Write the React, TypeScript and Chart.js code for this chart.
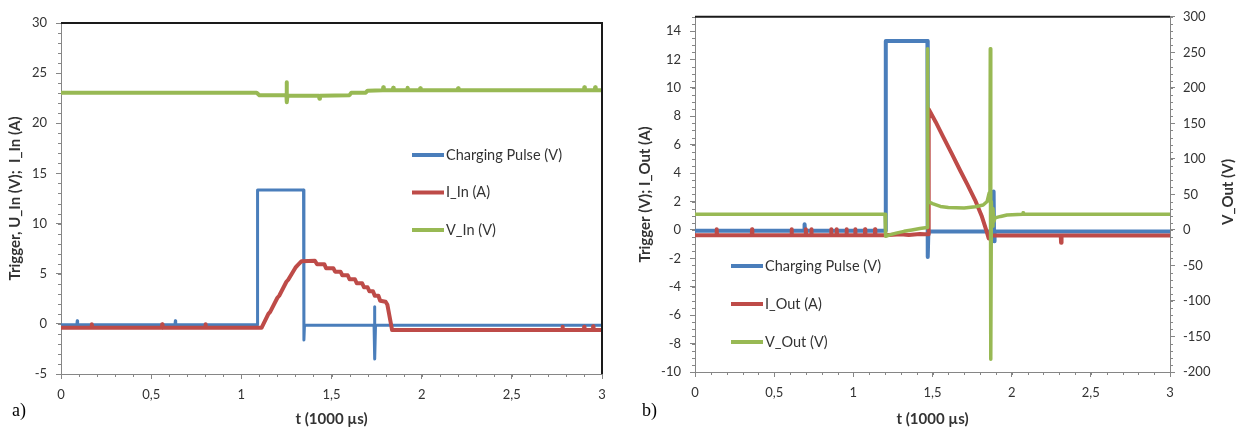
import React, { useEffect, useRef } from 'react';
import { Chart, registerables } from 'chart.js';

Chart.register(...registerables);

// ---------------- data ----------------
const xTickValues = [0, 0.5, 1, 1.5, 2, 2.5, 3];
const aYTickValues = [-5, 0, 5, 10, 15, 20, 25, 30];
const bYTickValues = [-10, -8, -6, -4, -2, 0, 2, 4, 6, 8, 10, 12, 14];
const bY2TickValues = [-200, -150, -100, -50, 0, 50, 100, 150, 200, 250, 300];

const aLabels = ['Charging Pulse (V)', 'I_In (A)', 'V_In (V)'];
const bLabels = ['Charging Pulse (V)', 'I_Out (A)', 'V_Out (V)'];

const aYTitle = 'Trigger, U_In (V);  I_In (A)';
const bYTitle = 'Trigger (V); I_Out (A)';
const bY2Title = 'V_Out (V)';
const xTitle = 't (1000 µs)';

// panel a) : [t (1000 µs), value]
const aPulse: [number, number][] = [
  [0, -0.1], [0.088, -0.1], [0.09, 0.3], [0.092, -0.1],
  [0.632, -0.1], [0.634, 0.3], [0.636, -0.1],
  [1.088, -0.1], [1.09, 13.35], [1.345, 13.35], [1.347, -1.6], [1.35, -0.15],
  [1.736, -0.15], [1.738, 1.7], [1.741, -3.5], [1.744, -0.15],
  [2.5, -0.15], [3, -0.15],
];

const aIIn: [number, number][] = [
  [0, -0.4], [0.17, -0.4], [0.171, -0.05], [0.173, -0.4],
  [0.56, -0.4], [0.561, -0.05], [0.563, -0.4],
  [0.8, -0.4], [0.801, -0.05], [0.803, -0.4],
  [1.112, -0.4], [1.15, 1.0], [1.16, 1.2], [1.2, 2.6], [1.21, 2.8], [1.25, 4.2], [1.26, 4.4],
  [1.3, 5.6], [1.31, 5.8], [1.334, 6.25], [1.408, 6.3],
  [1.42, 5.95], [1.46, 5.95], [1.47, 5.55], [1.51, 5.55], [1.52, 5.2], [1.55, 5.2],
  [1.56, 4.85], [1.59, 4.85], [1.6, 4.45], [1.63, 4.45], [1.64, 4.05], [1.67, 4.05],
  [1.68, 3.65], [1.7, 3.65], [1.71, 3.25], [1.73, 3.25], [1.74, 2.8], [1.76, 2.8],
  [1.77, 2.3], [1.8, 2.2], [1.81, 1.9], [1.836, -0.62],
  [2.2, -0.62], [2.6, -0.62], [2.78, -0.62], [2.781, -0.3], [2.783, -0.62],
  [2.9, -0.62], [2.901, -0.3], [2.903, -0.62], [2.95, -0.62], [2.951, -0.25], [2.953, -0.62], [3, -0.62],
];

const aVIn: [number, number][] = [
  [0, 23.05], [1.085, 23.05], [1.1, 22.8], [1.25, 22.8], [1.251, 24.1], [1.253, 22.1], [1.256, 22.75],
  [1.43, 22.75], [1.433, 22.45], [1.436, 22.75], [1.6, 22.8], [1.61, 23.05], [1.69, 23.05], [1.7, 23.25],
  [1.785, 23.3], [1.787, 23.6], [1.79, 23.3], [1.84, 23.3], [1.842, 23.55], [1.845, 23.3],
  [1.92, 23.3], [1.922, 23.55], [1.925, 23.3], [1.99, 23.3], [1.992, 23.5], [1.995, 23.3],
  [2.2, 23.3], [2.202, 23.5], [2.205, 23.3], [2.9, 23.3], [2.902, 23.6], [2.905, 23.3],
  [2.96, 23.3], [2.962, 23.6], [2.965, 23.3], [3, 23.3],
];

// panel b)
const bPulse: [number, number][] = [
  [0, -0.05], [0.69, -0.05], [0.692, 0.4], [0.695, -0.05],
  [1.203, -0.05], [1.205, 13.3], [1.468, 13.3], [1.47, -1.9], [1.474, -0.12],
  [1.884, -0.12], [1.886, 2.7], [1.889, -0.8], [1.892, -0.12], [3, -0.12],
];

const bIOut: [number, number][] = [
  [0, -0.38], [0.136, -0.38], [0.137, 0.05], [0.139, -0.38],
  [0.359, -0.38], [0.36, 0.05], [0.362, -0.38],
  [0.609, -0.38], [0.61, 0.05], [0.612, -0.38],
  [0.699, -0.38], [0.7, 0.05], [0.702, -0.38],
  [0.734, -0.38], [0.735, 0.05], [0.737, -0.38],
  [0.859, -0.38], [0.86, 0.05], [0.862, -0.38],
  [0.894, -0.38], [0.895, 0.05], [0.897, -0.38],
  [0.956, -0.38], [0.957, 0.05], [0.959, -0.38],
  [1.011, -0.38], [1.012, 0.05], [1.014, -0.38],
  [1.073, -0.38], [1.074, 0.05], [1.076, -0.38],
  [1.136, -0.38], [1.137, 0.05], [1.139, -0.38],
  [1.2, -0.38], [1.3, -0.3], [1.35, -0.35], [1.42, -0.28], [1.45, -0.3], [1.472, -0.3],
  [1.476, 8.5], [1.52, 7.6], [1.57, 6.5], [1.62, 5.4], [1.674, 4.2], [1.72, 3.2], [1.769, 2.1],
  [1.81, 1.0], [1.842, -0.1], [1.855, -0.6], [1.868, -0.4],
  [2.31, -0.4], [2.312, -0.9], [2.315, -0.4], [3, -0.4],
];

const bVOut: [number, number][] = [
  [0, 22], [1.2, 22], [1.204, -9], [1.23, -7], [1.27, -4.5], [1.32, -2], [1.37, 0], [1.42, 2],
  [1.467, 3.5], [1.469, 255], [1.472, 40], [1.5, 37], [1.55, 33], [1.6, 31.5], [1.7, 31],
  [1.77, 32.5], [1.82, 35], [1.845, 40], [1.858, 52], [1.863, 60], [1.865, 255], [1.868, -182],
  [1.872, 40], [1.876, 5], [1.882, 30], [1.888, 12], [1.895, 17], [1.93, 19], [1.97, 21],
  [2.07, 22], [2.072, 24], [2.075, 22], [3, 22],
];

// ---------------- styles ----------------
const FONT = 'Lato, "Liberation Sans", Arial, sans-serif';
const TEXT = '#333333';
const AXIS = '#868686';
const BLUE = '#4A7EBB';
const RED = '#BE4B48';
const GREEN = '#98B954';

const fmt = (v: number | string) => String(v).replace('.', ',');

function series(label: string, data: [number, number][], color: string, width: number, yAxisID = 'y') {
  return {
    label,
    data: data.map(([x, y]) => ({ x, y })),
    borderColor: color,
    backgroundColor: color,
    borderWidth: width,
    borderJoinStyle: 'round' as const,
    borderCapStyle: 'butt' as const,
    pointRadius: 0,
    pointHoverRadius: 0,
    tension: 0,
    fill: false,
    yAxisID,
  };
}

type DecorCfg = {
  minor: Record<string, number>;
  frameRight: boolean;
  legend: { x: number; y: number; dy: number; len: number; items: { text: string; color: string }[] };
  rightTitle?: { text: string; x: number; y: number };
};

function makeDecor(cfg: DecorCfg) {
  return {
    id: 'decor',
    afterDraw(chart: any) {
      const ctx: CanvasRenderingContext2D = chart.ctx;
      const area = chart.chartArea;
      ctx.save();
      // minor ticks
      ctx.strokeStyle = AXIS;
      ctx.lineWidth = 1;
      for (const id of Object.keys(cfg.minor)) {
        const s = chart.scales[id];
        const step = cfg.minor[id];
        const n = Math.round((s.max - s.min) / step);
        for (let i = 0; i <= n; i++) {
          const p = Math.round(s.getPixelForValue(s.min + i * step)) + 0.5;
          ctx.beginPath();
          if (s.isHorizontal()) {
            ctx.moveTo(p, s.top);
            ctx.lineTo(p, s.top + 3);
          } else if (s.position === 'left') {
            ctx.moveTo(s.right, p);
            ctx.lineTo(s.right - 3, p);
          } else {
            ctx.moveTo(s.left, p);
            ctx.lineTo(s.left + 3, p);
          }
          ctx.stroke();
        }
      }
      // frame
      ctx.strokeStyle = '#1a1a1a';
      ctx.lineWidth = 2;
      ctx.beginPath();
      ctx.moveTo(area.left, area.top);
      ctx.lineTo(area.right, area.top);
      if (cfg.frameRight) ctx.lineTo(area.right, area.bottom);
      ctx.stroke();
      // legend
      const lg = cfg.legend;
      ctx.font = `14.5px ${FONT}`;
      ctx.textBaseline = 'middle';
      ctx.textAlign = 'left';
      lg.items.forEach((it, i) => {
        const y = lg.y + i * lg.dy;
        ctx.strokeStyle = it.color;
        ctx.lineWidth = 4;
        ctx.beginPath();
        ctx.moveTo(lg.x, y);
        ctx.lineTo(lg.x + lg.len, y);
        ctx.stroke();
        ctx.fillStyle = TEXT;
        ctx.fillText(it.text, lg.x + lg.len + 2, y);
      });
      // rotated right title (reads bottom to top)
      if (cfg.rightTitle) {
        const rt = cfg.rightTitle;
        ctx.translate(rt.x, rt.y);
        ctx.rotate(-Math.PI / 2);
        ctx.font = `bold 15px ${FONT}`;
        ctx.textAlign = 'center';
        ctx.textBaseline = 'middle';
        ctx.fillStyle = TEXT;
        ctx.fillText(rt.text, 0, 0);
      }
      ctx.restore();
    },
  };
}

const tickFont = { family: FONT, size: 13 };
const titleFont = { family: FONT, size: 15, weight: 'bold' as const };

function xScale(height: number) {
  return {
    type: 'linear' as const,
    min: 0,
    max: 3,
    afterBuildTicks: (s: any) => { s.ticks = xTickValues.map((value) => ({ value })); },
    afterFit: (s: any) => { s.height = height; },
    ticks: { callback: (v: any) => fmt(v), font: tickFont, color: TEXT, padding: 8, autoSkip: false, maxRotation: 0 },
    grid: { drawOnChartArea: false, tickLength: 5, color: AXIS },
    border: { color: AXIS },
    title: { display: true, text: xTitle, font: titleFont, color: TEXT, padding: { top: 0, bottom: 0 } },
  };
}

function buildA() {
  return {
    type: 'line' as const,
    data: {
      datasets: [
        series(aLabels[2], aVIn, GREEN, 4),
        series(aLabels[1], aIIn, RED, 4),
        series(aLabels[0], aPulse, BLUE, 3),
      ],
    },
    options: {
      animation: false as const,
      responsive: false,
      events: [],
      layout: { padding: { left: 0, right: 18, top: 23, bottom: 0 } },
      plugins: { legend: { display: false }, tooltip: { enabled: false } },
      scales: {
        x: xScale(54),
        y: {
          type: 'linear' as const,
          position: 'left' as const,
          min: -5,
          max: 30,
          afterBuildTicks: (s: any) => { s.ticks = aYTickValues.map((value) => ({ value })); },
          afterFit: (s: any) => { s.width = 61; },
          ticks: { font: tickFont, color: TEXT, padding: 9 },
          grid: { drawOnChartArea: false, tickLength: 5, color: AXIS },
          border: { color: AXIS },
          title: { display: true, text: aYTitle, font: titleFont, color: TEXT, padding: { top: 6, bottom: 0 } },
        },
      },
    },
    plugins: [
      makeDecor({
        minor: { x: 0.1, y: 1 },
        frameRight: true,
        legend: {
          x: 412, y: 155, dy: 37.5, len: 32,
          items: [
            { text: aLabels[0], color: BLUE },
            { text: aLabels[1], color: RED },
            { text: aLabels[2], color: GREEN },
          ],
        },
      }),
    ],
  };
}

function buildB() {
  return {
    type: 'line' as const,
    data: {
      datasets: [
        series(bLabels[2], bVOut, GREEN, 3.5, 'y2'),
        series(bLabels[1], bIOut, RED, 4),
        series(bLabels[0], bPulse, BLUE, 4),
      ],
    },
    options: {
      animation: false as const,
      responsive: false,
      events: [],
      layout: { padding: { left: 0, right: 0, top: 16, bottom: 0 } },
      plugins: { legend: { display: false }, tooltip: { enabled: false } },
      scales: {
        x: xScale(56),
        y: {
          type: 'linear' as const,
          position: 'left' as const,
          min: -10,
          max: 15,
          afterBuildTicks: (s: any) => { s.ticks = bYTickValues.map((value) => ({ value })); },
          afterFit: (s: any) => { s.width = 75; },
          ticks: { font: tickFont, color: TEXT, padding: 9 },
          grid: { drawOnChartArea: false, tickLength: 5, color: AXIS },
          border: { color: AXIS },
          title: { display: true, text: bYTitle, font: titleFont, color: TEXT, padding: { top: 16, bottom: 0 } },
        },
        y2: {
          type: 'linear' as const,
          position: 'right' as const,
          min: -200,
          max: 300,
          afterBuildTicks: (s: any) => { s.ticks = bY2TickValues.map((value) => ({ value })); },
          afterFit: (s: any) => { s.width = 69; },
          ticks: { font: tickFont, color: TEXT, padding: 8 },
          grid: { drawOnChartArea: false, tickLength: 5, color: AXIS },
          border: { color: AXIS },
        },
      },
    },
    plugins: [
      makeDecor({
        minor: { x: 0.1, y: 0.5, y2: 10 },
        frameRight: false,
        legend: {
          x: 111, y: 266, dy: 38, len: 32,
          items: [
            { text: bLabels[0], color: BLUE },
            { text: bLabels[1], color: RED },
            { text: bLabels[2], color: GREEN },
          ],
        },
        rightTitle: { text: bY2Title, x: 608, y: 192 },
      }),
    ],
  };
}

function ChartPanel({ build, left, width }: { build: () => any; left: number; width: number }) {
  const ref = useRef<HTMLCanvasElement>(null);
  useEffect(() => {
    const chart = new Chart(ref.current as HTMLCanvasElement, build());
    return () => chart.destroy();
  }, [build]);
  return (
    <canvas
      ref={ref}
      width={width}
      height={428}
      style={{ position: 'absolute', left, top: 0, width, height: 428 }}
    />
  );
}

const letterStyle: React.CSSProperties = {
  position: 'absolute',
  top: 399,
  fontFamily: '"Liberation Serif", "DejaVu Serif", serif',
  fontSize: 18,
  lineHeight: '22px',
  color: '#000',
};

export default function App() {
  return (
    <div style={{ position: 'fixed', left: 0, top: 0, width: 1239, height: 428, background: '#fff', overflow: 'hidden' }}>
      <ChartPanel build={buildA} left={0} width={620} />
      <ChartPanel build={buildB} left={620} width={619} />
      <span style={{ ...letterStyle, left: 12 }}>a)</span>
      <span style={{ ...letterStyle, left: 642 }}>b)</span>
    </div>
  );
}
